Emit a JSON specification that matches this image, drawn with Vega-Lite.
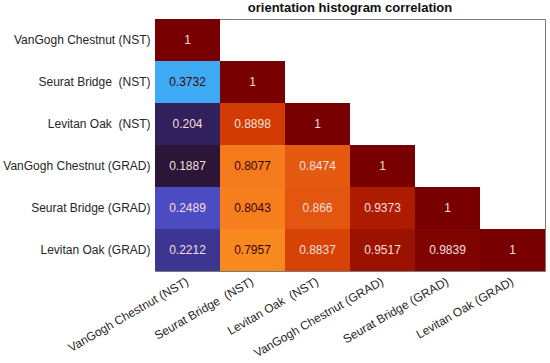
{
  "$schema": "https://vega.github.io/schema/vega-lite/v6.json",
  "width": 390,
  "height": 252,
  "autosize": {"type": "none"},
  "padding": {"left": 155, "top": 19, "right": 5, "bottom": 92},
  "background": "white",
  "view": {"stroke": "#7a7a7a", "strokeWidth": 1},
  "title": {"text": "orientation histogram correlation", "fontSize": 13, "fontWeight": "bold", "font": "Liberation Sans", "color": "#111111", "offset": 4, "anchor": "middle"},
  "config": {"view": {"stroke": "#7a7a7a", "strokeWidth": 1}},
  "data": {"values": [
    {"row": "VanGogh Chestnut (NST)", "col": "VanGogh Chestnut (NST)", "v": 1},
    {"row": "Seurat Bridge\u00a0 (NST)", "col": "VanGogh Chestnut (NST)", "v": 0.3732},
    {"row": "Seurat Bridge\u00a0 (NST)", "col": "Seurat Bridge\u00a0 (NST)", "v": 1},
    {"row": "Levitan Oak\u00a0 (NST)", "col": "VanGogh Chestnut (NST)", "v": 0.204},
    {"row": "Levitan Oak\u00a0 (NST)", "col": "Seurat Bridge\u00a0 (NST)", "v": 0.8898},
    {"row": "Levitan Oak\u00a0 (NST)", "col": "Levitan Oak\u00a0 (NST)", "v": 1},
    {"row": "VanGogh Chestnut (GRAD)", "col": "VanGogh Chestnut (NST)", "v": 0.1887},
    {"row": "VanGogh Chestnut (GRAD)", "col": "Seurat Bridge\u00a0 (NST)", "v": 0.8077},
    {"row": "VanGogh Chestnut (GRAD)", "col": "Levitan Oak\u00a0 (NST)", "v": 0.8474},
    {"row": "VanGogh Chestnut (GRAD)", "col": "VanGogh Chestnut (GRAD)", "v": 1},
    {"row": "Seurat Bridge (GRAD)", "col": "VanGogh Chestnut (NST)", "v": 0.2489},
    {"row": "Seurat Bridge (GRAD)", "col": "Seurat Bridge\u00a0 (NST)", "v": 0.8043},
    {"row": "Seurat Bridge (GRAD)", "col": "Levitan Oak\u00a0 (NST)", "v": 0.866},
    {"row": "Seurat Bridge (GRAD)", "col": "VanGogh Chestnut (GRAD)", "v": 0.9373},
    {"row": "Seurat Bridge (GRAD)", "col": "Seurat Bridge (GRAD)", "v": 1},
    {"row": "Levitan Oak (GRAD)", "col": "VanGogh Chestnut (NST)", "v": 0.2212},
    {"row": "Levitan Oak (GRAD)", "col": "Seurat Bridge\u00a0 (NST)", "v": 0.7957},
    {"row": "Levitan Oak (GRAD)", "col": "Levitan Oak\u00a0 (NST)", "v": 0.8837},
    {"row": "Levitan Oak (GRAD)", "col": "VanGogh Chestnut (GRAD)", "v": 0.9517},
    {"row": "Levitan Oak (GRAD)", "col": "Seurat Bridge (GRAD)", "v": 0.9839},
    {"row": "Levitan Oak (GRAD)", "col": "Levitan Oak (GRAD)", "v": 1}
  ]},
  "encoding": {
    "x": {
      "field": "col", "type": "nominal",
      "sort": ["VanGogh Chestnut (NST)", "Seurat Bridge\u00a0 (NST)", "Levitan Oak\u00a0 (NST)", "VanGogh Chestnut (GRAD)", "Seurat Bridge (GRAD)", "Levitan Oak (GRAD)"],
      "scale": {"paddingInner": 0, "paddingOuter": 0},
      "axis": {"title": null, "labelAngle": -30, "labelAlign": "right", "labelBaseline": "middle", "labelPadding": 9, "ticks": false, "domain": false, "labelFont": "Liberation Sans", "labelFontSize": 12, "labelColor": "#262626", "labelLimit": 0}
    },
    "y": {
      "field": "row", "type": "nominal",
      "sort": ["VanGogh Chestnut (NST)", "Seurat Bridge\u00a0 (NST)", "Levitan Oak\u00a0 (NST)", "VanGogh Chestnut (GRAD)", "Seurat Bridge (GRAD)", "Levitan Oak (GRAD)"],
      "scale": {"paddingInner": 0, "paddingOuter": 0},
      "axis": {"title": null, "ticks": false, "domain": false, "labelPadding": 5, "labelFont": "Liberation Sans", "labelFontSize": 12, "labelColor": "#262626", "labelLimit": 0}
    }
  },
  "layer": [
    {
      "mark": {"type": "rect"},
      "encoding": {
        "color": {
          "field": "v", "type": "quantitative", "legend": null,
          "scale": {
            "domain": [0.1887, 0.204, 0.2212, 0.2489, 0.3732, 0.7957, 0.8077, 0.8474, 0.866, 0.8898, 0.9373, 0.9517, 0.9839, 1],
            "range": ["#2b1638", "#30205c", "#3c3692", "#4c4cc2", "#3fabf5", "#f8891f", "#f57a1c", "#e45a10", "#e2560f", "#d23c02", "#ae1c00", "#9c1200", "#7f0400", "#780000"],
            "interpolate": "rgb"
          }
        }
      }
    },
    {
      "mark": {"type": "text", "font": "Liberation Sans", "fontSize": 12},
      "encoding": {
        "text": {"field": "v", "type": "quantitative"},
        "color": {
          "condition": {"test": "datum.v > 0.3 && datum.v < 0.82", "value": "#3a0505"},
          "value": "#f7dede"
        }
      }
    }
  ]
}
